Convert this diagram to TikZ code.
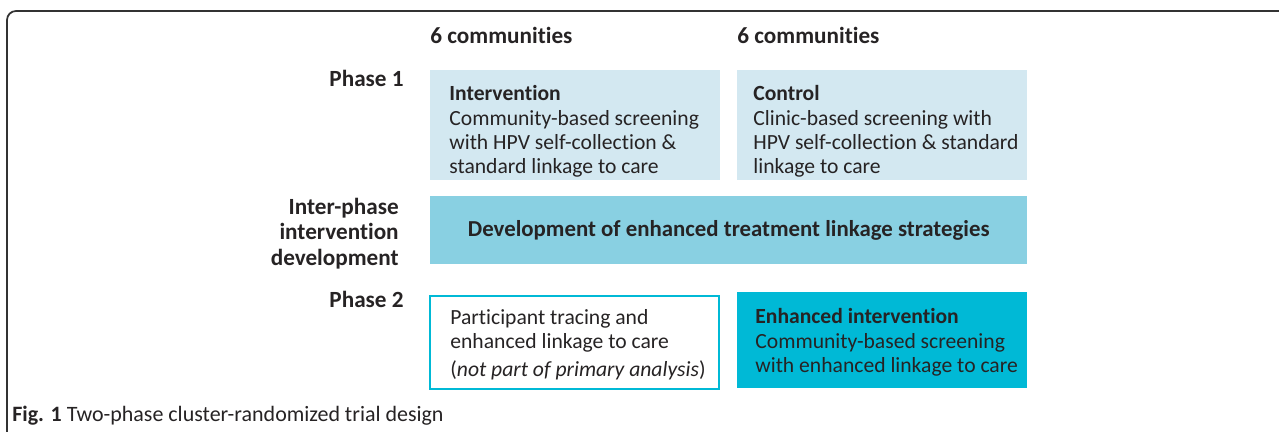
\documentclass[tikz,border=0pt]{standalone}
\usepackage{fontspec}
\setmainfont{Carlito}[Ligatures=NoCommon]
\usetikzlibrary{positioning}

\definecolor{paleblue}{HTML}{D3E8F1}
\definecolor{midblue}{HTML}{89D0E2}
\definecolor{deepcyan}{HTML}{00B9D6}
\definecolor{inkgray}{HTML}{262324}
\definecolor{framegray}{HTML}{333333}

\tikzset{
  txt/.style={font=\fontsize{12.3}{13.7}\selectfont, text=inkgray},
  headlabel/.style={txt, font=\fontsize{13.2}{13.7}\selectfont\bfseries, inner sep=0pt},
  boxtext/.style={txt, align=left, inner sep=0pt},
  armbox/.style={anchor=north west, inner sep=0pt, minimum width=5.8cm,
    minimum height=2.2cm, fill=paleblue},
  devbox/.style={txt, anchor=north west, font=\fontsize{13}{13.7}\selectfont\bfseries,
    minimum width=11.94cm, minimum height=1.36cm, fill=midblue},
  tracebox/.style={anchor=north west, inner sep=0pt, minimum width=5.78cm,
    minimum height=1.86cm, draw=deepcyan, line width=1.1pt, fill=white},
  enhbox/.style={anchor=north west, inner sep=0pt, minimum width=5.8cm,
    minimum height=1.92cm, fill=deepcyan}
}

\begin{document}
\begin{tikzpicture}[x=0.02cm, y=-0.02cm]
  \clip (0,0) rectangle (1279,432);
  % outer frame, open to the right and bottom
  \draw[framegray, line width=1pt, rounded corners=0.18cm] (1300,11) -- (7,11) -- (7,460);

  % column headers
  \node[headlabel, anchor=base west] (colA) at (430,44) {6 communities};
  \node[headlabel, anchor=base west] (colB) at (737,44) {6 communities};

  % phase 1 arms
  \node[armbox] (interv) at (430,70) {};
  \node[armbox] (ctrl) at (737,70) {};
  \node[boxtext, right=0.38cm of interv.west, yshift=-0.12cm] (intervtxt)
    {\textbf{Intervention}\\Community-based screening\\with HPV self-collection \&\\standard linkage to care};
  \node[boxtext, right=0.32cm of ctrl.west, yshift=-0.12cm] (ctrltxt)
    {\textbf{Control}\\Clinic-based screening with\\HPV self-collection \& standard\\linkage to care};

  % between the phases
  \node[devbox] (devel) at (430,196) {Development of enhanced treatment linkage strategies};

  % phase 2 arms
  \node[tracebox] (trace) at (429,295) {};
  \node[enhbox] (enh) at (737,292) {};
  \node[boxtext, right=0.42cm of trace.west, yshift=-0.04cm] (tracetxt)
    {Participant tracing and\\enhanced linkage to care\\[2pt](\textit{not part of primary analysis})};
  \node[boxtext, right=0.36cm of enh.west, yshift=-0.04cm] (enhtxt)
    {\textbf{Enhanced intervention}\\Community-based screening\\with enhanced linkage to care};

  % row labels
  \node[headlabel, anchor=base east] (rowA) at (404,87) {Phase 1};
  \node[headlabel, align=right, left=0.62cm of devel.west, yshift=-0.06cm] (rowB)
    {Inter-phase\\[0.9pt]intervention\\[0.9pt]development};
  \node[headlabel, anchor=base east] (rowC) at (404,308) {Phase 2};

  % caption
  \node[txt, font=\fontsize{12.5}{13.7}\selectfont, anchor=base west, inner sep=0pt] (capt) at (12,421)
    {\textbf{Fig. 1} Two-phase cluster-randomized trial design};
\end{tikzpicture}
\end{document}
